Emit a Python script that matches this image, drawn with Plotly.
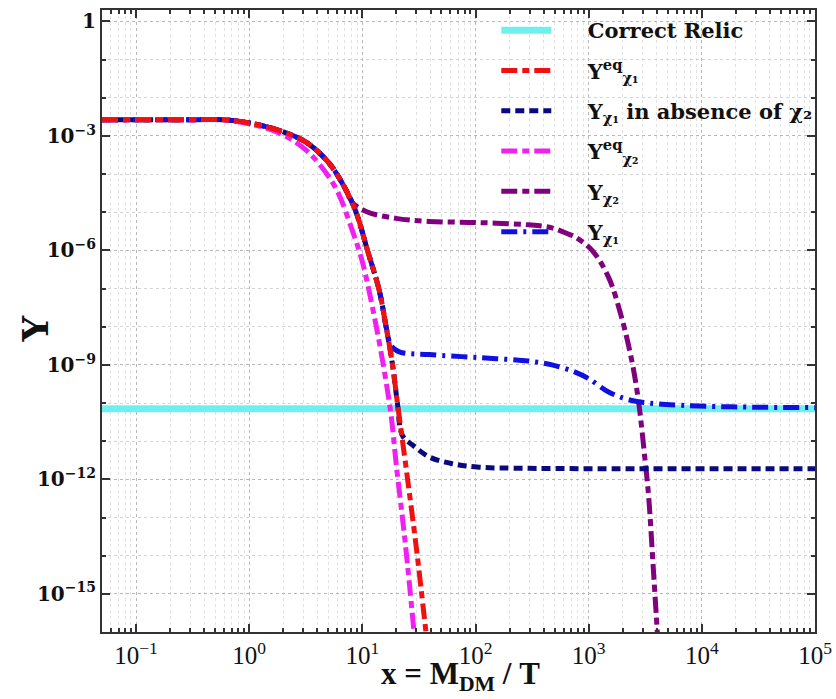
import plotly.graph_objects as go

# ---- data: x = M_DM / T, curves given as (x, log10 Y) ----
relic_log = -10.149

x_eq1 = [0.05, 0.3, 0.6, 1.0, 1.86, 3.2, 5.1, 7.2, 8.8, 11.1, 14.1, 16.2, 18.4, 20.4, 22.6, 24.3, 30.0, 36.6]
logy_eq1 = [-2.573, -2.573, -2.575, -2.66, -2.86, -3.17, -3.72, -4.43, -5.0, -6.0, -7.05, -8.0, -8.96, -10.0, -10.98, -11.68, -13.8, -16.05]

x_eq2 = [0.05, 0.3, 0.6, 1.0, 1.6, 2.3, 3.2, 4.2, 5.9, 8.2, 10.0, 12.3, 15.1, 17.9, 19.9, 24.0, 28.7]
logy_eq2 = [-2.573, -2.573, -2.58, -2.68, -2.85, -3.07, -3.38, -3.75, -4.4, -5.5, -6.3, -7.5, -8.9, -10.3, -11.6, -13.7, -16.05]

x_nochi2 = [0.05, 0.3, 0.6, 1.0, 1.86, 3.2, 5.1, 7.2, 8.8, 11.1, 14.1, 16.2, 18.4, 20.4, 22.6, 27.8, 38.9, 62.5, 107, 300, 1e5]
logy_nochi2 = [-2.573, -2.573, -2.575, -2.66, -2.86, -3.17, -3.72, -4.43, -5.0, -6.0, -7.05, -8.0, -8.96, -10.0, -10.85, -11.1, -11.41, -11.59, -11.68, -11.71, -11.72]

x_chi2 = [0.05, 0.3, 0.6, 1.0, 1.86, 3.2, 5.1, 7.2, 8.0, 10.8, 19.8, 38.9, 107, 295, 474, 660, 760, 1072, 1496, 1950, 2400, 2750, 3150, 3390, 3700, 4050]
logy_chi2 = [-2.573, -2.573, -2.575, -2.66, -2.86, -3.17, -3.72, -4.43, -4.72, -4.98, -5.16, -5.24, -5.27, -5.33, -5.41, -5.57, -5.65, -6.0, -6.7, -7.75, -8.88, -9.93, -11.5, -12.46, -14.2, -16.05]

x_chi1 = [0.05, 0.3, 0.6, 1.0, 1.86, 3.2, 5.1, 7.2, 8.8, 11.1, 14.1, 16.2, 18.0, 21.2, 38.9, 107, 295, 474, 760, 1000, 1500, 2240, 3390, 6600, 18200, 1e5]
logy_chi1 = [-2.573, -2.573, -2.575, -2.66, -2.86, -3.17, -3.72, -4.43, -5.0, -6.0, -7.05, -8.0, -8.5, -8.66, -8.73, -8.81, -8.9, -9.0, -9.19, -9.36, -9.71, -9.91, -10.0, -10.06, -10.1, -10.12]

x_range = [0.05, 1e5]

x_tick_vals = [1e-1, 1, 1e1, 1e2, 1e3, 1e4, 1e5]
x_tick_text = ["10<sup>\u22121</sup>", "10<sup>0</sup>", "10<sup>1</sup>", "10<sup>2</sup>",
               "10<sup>3</sup>", "10<sup>4</sup>", "10<sup>5</sup>"]
y_tick_vals = [1, 1e-3, 1e-6, 1e-9, 1e-12, 1e-15]
y_tick_text = ["<b>1</b>", "<b>10<sup>\u22123</sup></b>", "<b>10<sup>\u22126</sup></b>",
               "<b>10<sup>\u22129</sup></b>", "<b>10<sup>\u221212</sup></b>",
               "<b>10<sup>\u221215</sup></b>"]
y_decades = [10.0 ** (-k) for k in range(0, 17)]


def pow10(vals):
    return [10.0 ** v for v in vals]


SERIF = "DejaVu Serif"
PAD = "\u2002\u2002\u2002"  # gap between legend sample and its label

DASHDOT = "16px,5px,7px,5px"

# (x, log10 y, legend label, colour, width, dash, legend rank); listed in drawing order
series = [
    (x_range, [relic_log, relic_log], "Correct Relic", "#6ff0f0", 7, "solid", 1),
    (x_chi2, logy_chi2, "Y<sub>\u03c7\u2082</sub>", "#800080", 5, DASHDOT, 5),
    (x_nochi2, logy_nochi2, "Y<sub>\u03c7\u2081</sub> in absence of \u03c7\u2082", "#0a0a80", 5, "9px,5px", 3),
    (x_chi1, logy_chi1, "Y<sub>\u03c7\u2081</sub>", "#1010e0", 5, "16px,6px,3px,6px", 6),
    (x_eq2, logy_eq2, "Y<sup>eq</sup><sub>\u03c7\u2082</sub>", "#f020f0", 5, DASHDOT, 4),
    (x_eq1, logy_eq1, "Y<sup>eq</sup><sub>\u03c7\u2081</sub>", "#f01010", 5, DASHDOT, 2),
]

fig = go.Figure()
for xs, lys, label, color, width, dash, rank in series:
    fig.add_trace(go.Scatter(
        x=xs, y=pow10(lys), mode="lines", line_shape="spline",
        name=PAD + "<b>" + label + "</b>", legendgroup=str(rank), legendrank=rank,
        line=dict(color=color, width=width, dash=dash)))

axis_common = dict(
    type="log", showline=True, linecolor="#333333", linewidth=2, mirror="ticks",
    ticks="inside", ticklen=8, tickcolor="#333333", tickwidth=1.5,
    showgrid=True, gridcolor="#b8b8b8", griddash="dot", gridwidth=1,
    zeroline=False, automargin=False,
)

fig.update_xaxes(
    **axis_common,
    range=[-1.30103, 5], tickmode="array", tickvals=x_tick_vals, ticktext=x_tick_text,
    tickfont=dict(family="Liberation Serif", size=25, color="#111111"),
    minor=dict(ticks="inside", ticklen=4, tickcolor="#333333", showgrid=True,
               gridcolor="#e2e2e2", griddash="dot", dtick="D1"),
)

fig.update_yaxes(
    **axis_common,
    range=[-16, 0.30103], tickmode="array", tickvals=y_tick_vals, ticktext=y_tick_text,
    tickfont=dict(family=SERIF, size=20, color="#111111"),
    minor=dict(tickmode="array", tickvals=y_decades, ticks="inside", ticklen=4,
               tickcolor="#333333", showgrid=True, gridcolor="#d4d4d4", griddash="dot"),
)

# axis labels placed close to the frame
fig.add_annotation(
    text="<b>Y</b>", xref="paper", yref="paper", x=-0.094, y=0.488,
    xanchor="center", yanchor="middle", textangle=-90, showarrow=False,
    font=dict(family=SERIF, size=36, color="#111111"),
)
fig.add_annotation(
    text="<b>x\u00a0=\u00a0M<sub>DM</sub>\u00a0/\u00a0T</b>", xref="paper", yref="paper",
    x=0.503, y=-0.106, xanchor="center", yanchor="bottom", showarrow=False,
    font=dict(family="Liberation Serif", size=31, color="#111111"),
)

fig.update_layout(
    width=836, height=699,
    margin=dict(l=102, r=21, t=10, b=67),
    paper_bgcolor="white", plot_bgcolor="white",
    showlegend=True,
    legend=dict(
        x=0.553, y=1.0, xanchor="left", yanchor="top",
        bgcolor="rgba(0,0,0,0)", borderwidth=0,
        font=dict(family=SERIF, size=21, color="#111111"),
        tracegroupgap=10, itemwidth=50,
    ),
)

fig.write_html("out.html")
